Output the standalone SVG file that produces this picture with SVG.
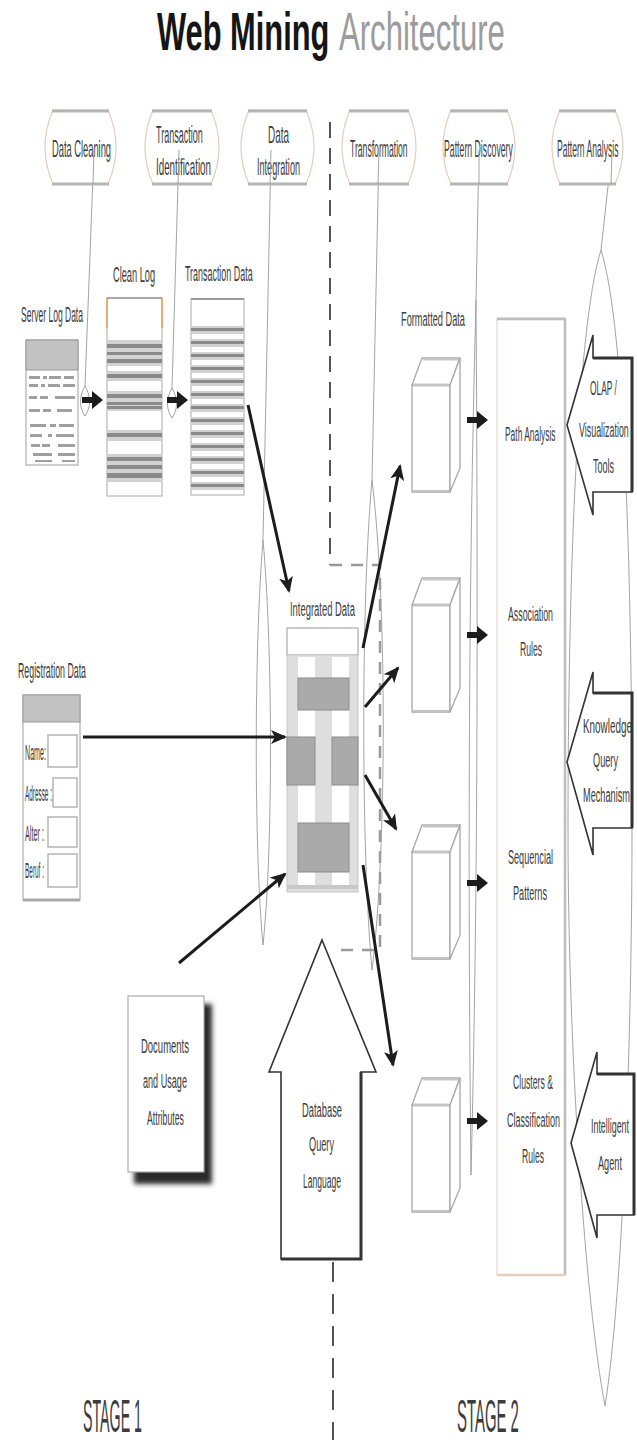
<svg xmlns="http://www.w3.org/2000/svg" width="637" height="1447" viewBox="0 0 637 1447">
<style>
.t{font-family:"Liberation Sans",Arial,sans-serif;fill:#3c3c3c;}
.f23{font-size:23px;}
.f22{font-size:22px;}
.f21{font-size:21px;}
.pill{fill:#fff;stroke:#e6cdbb;stroke-width:1.2;}
.pe{stroke:#b5b5b5;stroke-width:3;fill:none;}
.thin{fill:none;stroke:#9a9a9a;stroke-width:0.9;}
.big{fill:none;stroke:#1c1c1c;stroke-width:3;marker-end:url(#ah);}
.blk{fill:#1c1c1c;}
.cube{fill:#fff;stroke:#a8a8a8;stroke-width:1.3;stroke-linejoin:round;}
.bar{fill:#aaa;stroke:#8c8c8c;stroke-width:1;}
.stripe{fill:#8a8a8a;}
.lstripe{fill:#d2d2d2;}
.blockarrow{fill:#fff;stroke:#333;stroke-width:1.6;stroke-linejoin:miter;}
</style>
<defs>
<marker id="ah" markerWidth="16" markerHeight="14" refX="14" refY="7" orient="auto" markerUnits="userSpaceOnUse">
<path d="M0,0 L16,7 L0,14 L4,7 Z" fill="#1c1c1c"/>
</marker>
<filter id="blur" x="-20%" y="-20%" width="140%" height="140%"><feGaussianBlur stdDeviation="2.5"/></filter>
<g id="cubeShape">
<path class="cube" d="M0,0 H38 V107 H0 Z"/>
<path class="cube" d="M0,0 L10,-27 H48 L38,0 Z"/>
<path class="cube" d="M38,0 L48,-27 V83 L38,107 Z"/>
<path d="M1,0 H37" stroke="#c4c4c4" stroke-width="3"/>
<path d="M11,-26 H47" stroke="#c4c4c4" stroke-width="3"/>
<path d="M1,106 H37" stroke="#c4c4c4" stroke-width="2"/>
</g>
</defs>
<rect width="637" height="1447" fill="#fff"/>

<g id="title">
<text class="t" transform="translate(157,50) scale(0.571,1)" font-size="54" font-weight="bold" style="fill:#151515">Web Mining</text>
<text class="t" transform="translate(339,50) scale(0.576,1)" font-size="54" style="fill:#9c9c9c">Architecture</text>
</g>

<!-- stage divider -->
<g id="divider" fill="none">
<path d="M330,122 V565" stroke="#555" stroke-width="2" stroke-dasharray="16,10"/>
<path d="M330,565 H380 V950 H334" stroke="#9a9a9a" stroke-width="2.5" stroke-dasharray="12,9"/>
<path d="M333,1262 V1440" stroke="#555" stroke-width="2" stroke-dasharray="20,12"/>
</g>

<!-- thin process lines -->
<g id="process-lines">
<path class="thin" d="M94,150 L85,386 C79,396 79,408 85,416 C91,408 91,396 85,386"/>
<path class="thin" d="M179,150 L172,388 C166,398 166,410 172,418 C178,410 178,398 172,388"/>
<path class="thin" d="M271,150 L263,540 C254,650 254,850 263,945 C273,850 273,650 263,540"/>
<path class="thin" d="M379,150 L372,480 C361,600 361,850 372,970 C387,850 387,600 372,480"/>
<path class="thin" d="M479,150 L476,300 C468,600 468,900 471,1175 C478,900 478,600 476,300"/>
<path class="thin" d="M612,150 L601,250 C576,330 568,600 568,828 C568,1050 585,1300 605,1406 C622,1300 632,1050 632,828 C632,600 626,330 601,250"/>
</g>

<!-- pills -->
<g id="pill-data-cleaning">
<path class="pill" d="M53,110 H108 Q124,147 108,184 H53 Q37,147 53,110 Z"/>
<path class="pe" d="M52,111 H109 M52,184 H109"/>
<text class="t f23" transform="translate(52,157) scale(0.405,1)">Data Cleaning</text>
</g>
<g id="pill-transaction-identification">
<path class="pill" d="M153,110 H211 Q227,147 211,184 H153 Q137,147 153,110 Z"/>
<path class="pe" d="M152,111 H212 M152,184 H212"/>
<text class="t f23" transform="translate(156,143) scale(0.391,1)">Transaction</text>
<text class="t f23" transform="translate(156,175) scale(0.426,1)">Identification</text>
</g>
<g id="pill-data-integration">
<path class="pill" d="M249,110 H306 Q322,147 306,184 H249 Q233,147 249,110 Z"/>
<path class="pe" d="M248,111 H307 M248,184 H307"/>
<text class="t f23" transform="translate(268,143) scale(0.432,1)">Data</text>
<text class="t f23" transform="translate(257,175) scale(0.396,1)">Integration</text>
</g>
<g id="pill-transformation">
<path class="pill" d="M350,110 H408 Q424,147 408,184 H350 Q334,147 350,110 Z"/>
<path class="pe" d="M349,111 H409 M349,184 H409"/>
<text class="t f23" transform="translate(350,157) scale(0.375,1)">Transformation</text>
</g>
<g id="pill-pattern-discovery">
<path class="pill" d="M451,110 H507 Q523,147 507,184 H451 Q435,147 451,110 Z"/>
<path class="pe" d="M450,111 H508 M450,184 H508"/>
<text class="t f23" transform="translate(444,157) scale(0.38,1)">Pattern Discovery</text>
</g>
<g id="pill-pattern-analysis">
<path class="pill" d="M560,110 H615 Q631,147 615,184 H560 Q544,147 560,110 Z"/>
<path class="pe" d="M559,111 H616 M559,184 H616"/>
<text class="t f23" transform="translate(557,157) scale(0.373,1)">Pattern Analysis</text>
</g>
<g id="pill-lines">
<path class="thin" d="M94,150 L93,184"/>
<path class="thin" d="M179,150 L178,184"/>
<path class="thin" d="M271,150 L270,184"/>
<path class="thin" d="M379,150 L378,184"/>
<path class="thin" d="M479,150 L479,184"/>
<path class="thin" d="M612,150 L611,184"/>
</g>

<!-- Server log data -->
<g id="server-log-data">
<text class="t f22" transform="translate(21,322) scale(0.387,1)">Server Log Data</text>
<rect x="26" y="340" width="52" height="125" fill="#fff" stroke="#b0b0b0" stroke-width="1.2"/>
<rect x="26" y="340" width="52" height="30" fill="#c2c2c2" stroke="#9a9a9a" stroke-width="1"/>
<g fill="#a0a0a0">
<rect x="29" y="376" width="11" height="3"/><rect x="43" y="376" width="4" height="3"/><rect x="49" y="376" width="12" height="3"/><rect x="64" y="376" width="10" height="3"/>
<rect x="29" y="384" width="9" height="3"/><rect x="41" y="384" width="4" height="3"/><rect x="48" y="384" width="12" height="3"/><rect x="63" y="384" width="12" height="3"/>
<rect x="29" y="396" width="8" height="3"/><rect x="40" y="396" width="8" height="3"/><rect x="55" y="396" width="20" height="3"/>
<rect x="29" y="409" width="11" height="3"/><rect x="43" y="409" width="8" height="3"/><rect x="57" y="409" width="15" height="3"/>
<rect x="30" y="424" width="16" height="3"/><rect x="50" y="424" width="6" height="3"/><rect x="59" y="424" width="15" height="3"/>
<rect x="30" y="434" width="12" height="3"/><rect x="48" y="434" width="4" height="3"/><rect x="56" y="434" width="18" height="3"/>
<rect x="31" y="444" width="9" height="3"/><rect x="42" y="444" width="8" height="3"/><rect x="58" y="444" width="17" height="3"/>
<rect x="33" y="453" width="19" height="3"/><rect x="58" y="453" width="17" height="3"/>
<rect x="35" y="460" width="17" height="2"/><rect x="62" y="460" width="13" height="2"/>
</g>
</g>

<!-- Clean log -->
<g id="clean-log">
<text class="t f22" transform="translate(113,282) scale(0.419,1)">Clean Log</text>
<rect x="107" y="298" width="55" height="198" fill="#fff" stroke="#b8b8b8" stroke-width="1.2"/>
<path d="M107,298 V328 M162,298 V328" stroke="#f0a050" stroke-width="1.5"/>
<path d="M107,298 H162" stroke="#999" stroke-width="1.5"/>
<g class="lstripe">
<rect x="107" y="340" width="55" height="26"/><rect x="107" y="371" width="55" height="10"/><rect x="107" y="391" width="55" height="20"/><rect x="107" y="430" width="55" height="11"/><rect x="107" y="454" width="55" height="28"/>
</g>
<g class="stripe">
<rect x="107" y="344" width="55" height="4"/><rect x="107" y="352" width="55" height="3"/><rect x="107" y="359" width="55" height="4"/><rect x="107" y="374" width="55" height="4"/><rect x="107" y="394" width="55" height="4"/><rect x="107" y="402" width="55" height="3"/><rect x="107" y="406" width="55" height="3"/><rect x="107" y="433" width="55" height="4"/><rect x="107" y="457" width="55" height="4"/><rect x="107" y="465" width="55" height="4"/><rect x="107" y="473" width="55" height="5"/>
</g>
</g>

<!-- Transaction data -->
<g id="transaction-data">
<text class="t f22" transform="translate(185,281) scale(0.406,1)">Transaction Data</text>
<rect x="191" y="299" width="53" height="196" fill="#fff" stroke="#b8b8b8" stroke-width="1.2"/>
<path d="M191,299 H244" stroke="#888" stroke-width="1.5"/>
<g class="lstripe">
<rect x="191" y="326" width="53" height="8"/><rect x="191" y="339" width="53" height="8"/><rect x="191" y="352" width="53" height="8"/><rect x="191" y="365" width="53" height="8"/><rect x="191" y="378" width="53" height="8"/><rect x="191" y="391" width="53" height="8"/><rect x="191" y="404" width="53" height="8"/><rect x="191" y="417" width="53" height="8"/><rect x="191" y="430" width="53" height="8"/><rect x="191" y="443" width="53" height="8"/><rect x="191" y="456" width="53" height="8"/><rect x="191" y="469" width="53" height="8"/><rect x="191" y="482" width="53" height="8"/>
</g>
<g class="stripe">
<rect x="191" y="328" width="53" height="3"/><rect x="191" y="341" width="53" height="3"/><rect x="191" y="354" width="53" height="3"/><rect x="191" y="367" width="53" height="3"/><rect x="191" y="380" width="53" height="3"/><rect x="191" y="393" width="53" height="3"/><rect x="191" y="406" width="53" height="3"/><rect x="191" y="419" width="53" height="3"/><rect x="191" y="432" width="53" height="3"/><rect x="191" y="445" width="53" height="3"/><rect x="191" y="458" width="53" height="3"/><rect x="191" y="471" width="53" height="3"/><rect x="191" y="484" width="53" height="3"/>
</g>
</g>

<!-- Registration data -->
<g id="registration-data">
<text class="t f22" transform="translate(18,678) scale(0.4,1)">Registration Data</text>
<rect x="23" y="695" width="57" height="205" fill="#fff" stroke="#b0b0b0" stroke-width="1.2"/>
<rect x="23" y="695" width="57" height="27" fill="#c2c2c2" stroke="#999" stroke-width="1"/>
<path d="M23,900 H80" stroke="#aaa" stroke-width="3"/>
<g fill="#fff" stroke="#aaa" stroke-width="1.3">
<rect x="48" y="735" width="29" height="32"/><rect x="53" y="778" width="24" height="29"/><rect x="48" y="817" width="29" height="30"/><rect x="48" y="854" width="29" height="33"/>
</g>
<text class="t f22" transform="translate(25,760) scale(0.324,1)">Name:</text>
<text class="t f22" transform="translate(25,801) scale(0.29,1)">Adresse :</text>
<text class="t f22" transform="translate(25,841) scale(0.33,1)">Alter :</text>
<text class="t f22" transform="translate(25,878) scale(0.293,1)">Beruf :</text>
</g>

<!-- Integrated data -->
<g id="integrated-data">
<text class="t f21" transform="translate(290,616) scale(0.449,1)">Integrated Data</text>
<rect x="287" y="628" width="71" height="27" fill="#fff" stroke="#aaa" stroke-width="1.2"/>
<rect x="287" y="655" width="71" height="237" fill="#dedede" stroke="#c8c8c8" stroke-width="1"/>
<rect x="298" y="657" width="17" height="230" fill="#fff"/>
<rect x="332" y="657" width="17" height="230" fill="#fff"/>
<rect class="bar" x="298" y="678" width="51" height="32"/>
<rect class="bar" x="287" y="737" width="28" height="48"/>
<rect class="bar" x="332" y="737" width="26" height="48"/>
<rect class="bar" x="298" y="823" width="51" height="49"/>
<path d="M287,887 H358" stroke="#c8c8c8" stroke-width="4"/>
</g>

<!-- Formatted data cubes -->
<g id="formatted-data-label">
<text class="t f21" transform="translate(401,326) scale(0.439,1)">Formatted Data</text>
</g>
<g id="cube-1"><use href="#cubeShape" x="412" y="385"/></g>
<g id="cube-2"><use href="#cubeShape" x="412" y="605"/></g>
<g id="cube-3"><use href="#cubeShape" x="412" y="852"/></g>
<g id="cube-4"><use href="#cubeShape" x="412" y="1105"/></g>

<!-- Documents -->
<g id="documents">
<rect x="134" y="1004" width="78" height="180" fill="#2a2a2a" filter="url(#blur)"/>
<rect x="128" y="996" width="76" height="176" fill="#fff" stroke="#aaa" stroke-width="1.2"/>
<text class="t f21" transform="translate(141,1053) scale(0.452,1)">Documents</text>
<text class="t f21" transform="translate(143,1088) scale(0.433,1)">and Usage</text>
<text class="t f21" transform="translate(147,1125) scale(0.417,1)">Attributes</text>
</g>

<!-- Database query language -->
<g id="database-query-language">
<path class="blockarrow" d="M322,940 L376,1072 H361 V1259 H281 V1072 H269 Z"/>
<path d="M281,1259 H361 V1072" fill="none" stroke="#333" stroke-width="3"/>
<text class="t f21" transform="translate(302,1117) scale(0.445,1)">Database</text>
<text class="t f21" transform="translate(309,1151) scale(0.437,1)">Query</text>
<text class="t f21" transform="translate(303,1188) scale(0.407,1)">Language</text>
</g>

<!-- Right panel -->
<g id="mining-panel">
<rect x="497" y="318" width="68" height="957" fill="#fff" stroke="#f0d8c8" stroke-width="1.2"/>
<path d="M497,319 H565 V1275" fill="none" stroke="#bdbdbd" stroke-width="2.5"/>
<path d="M497,1275 H565" stroke="#e8cfbd" stroke-width="2.5"/>
<text class="t f21" transform="translate(505,441) scale(0.401,1)">Path Analysis</text>
<text class="t f21" transform="translate(508,621) scale(0.419,1)">Association</text>
<text class="t f21" transform="translate(520,656) scale(0.41,1)">Rules</text>
<text class="t f21" transform="translate(508,864) scale(0.433,1)">Sequencial</text>
<text class="t f21" transform="translate(513,900) scale(0.435,1)">Patterns</text>
<text class="t f21" transform="translate(513,1089) scale(0.413,1)">Clusters &amp;</text>
<text class="t f21" transform="translate(507,1127) scale(0.428,1)">Classification</text>
<text class="t f21" transform="translate(522,1163) scale(0.41,1)">Rules</text>
</g>

<!-- Left pointing tool arrows -->
<g id="olap-visualization-tools">
<path class="blockarrow" d="M567,425 L593,335 V358 H632 V492 H593 V515 Z"/>
<path d="M593,358 H632 V492" fill="none" stroke="#333" stroke-width="3"/>
<text class="t f21" transform="translate(590,395) scale(0.4,1)">OLAP /</text>
<text class="t f21" transform="translate(579,437) scale(0.424,1)">Visualization</text>
<text class="t f21" transform="translate(593,473) scale(0.429,1)">Tools</text>
</g>
<g id="knowledge-query-mechanism">
<path class="blockarrow" d="M567,762 L593,672 V693 H632 V828 H593 V855 Z"/>
<path d="M593,693 H632 V828" fill="none" stroke="#333" stroke-width="3"/>
<text class="t f21" transform="translate(583,733) scale(0.472,1)">Knowledge</text>
<text class="t f21" transform="translate(593,767) scale(0.437,1)">Query</text>
<text class="t f21" transform="translate(583,802) scale(0.438,1)">Mechanism</text>
</g>
<g id="intelligent-agent">
<path class="blockarrow" d="M571,1143 L597,1052 V1074 H634 V1215 H597 V1238 Z"/>
<path d="M597,1074 H634 V1215" fill="none" stroke="#333" stroke-width="3"/>
<text class="t f21" transform="translate(591,1133) scale(0.423,1)">Intelligent</text>
<text class="t f21" transform="translate(598,1170) scale(0.437,1)">Agent</text>
</g>

<!-- connectors -->
<g id="connectors">
<path class="blk" d="M82,397 H92 V391 L103,400 L92,409 V403 H82 Z"/>
<path class="blk" d="M167,397 H177 V391 L188,400 L177,409 V403 H167 Z"/>
<path class="big" d="M248,405 L289,591"/>
<path class="big" d="M83,737 L285,737" stroke-width="4"/>
<path class="big" d="M179,963 L285,874" stroke-width="3.5"/>
<path class="big" d="M363,648 L400,466"/>
<path class="big" d="M365,707 L398,668" stroke-width="3.5"/>
<path class="big" d="M365,775 L396,829" stroke-width="3.5"/>
<path class="big" d="M363,865 L393,1065"/>
<path class="blk" d="M467,417 H477 V411 L488,420 L477,429 V423 H467 Z"/>
<path class="blk" d="M467,632 H477 V626 L488,635 L477,644 V638 H467 Z"/>
<path class="blk" d="M467,880 H477 V874 L488,883 L477,892 V886 H467 Z"/>
<path class="blk" d="M467,1118 H477 V1112 L488,1121 L477,1130 V1124 H467 Z"/>
</g>

<g id="stages">
<text class="t" transform="translate(83,1432) scale(0.309,1)" font-size="46">STAGE 1</text>
<text class="t" transform="translate(457,1432) scale(0.324,1)" font-size="46">STAGE 2</text>
</g>
</svg>
